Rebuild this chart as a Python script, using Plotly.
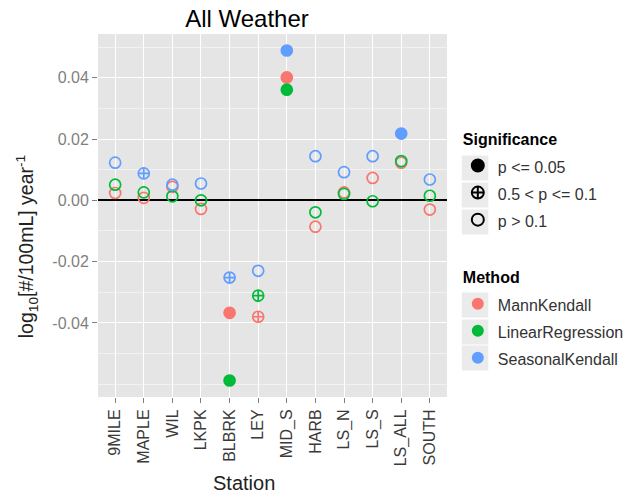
import plotly.graph_objects as go

stations = ["9MILE", "MAPLE", "WIL", "LKPK", "BLBRK", "LEY", "MID_S", "HARB",
            "LS_N", "LS_S", "LS_ALL", "SOUTH"]

mann_kendall = [0.0024, 0.0008, 0.0044, -0.0028, -0.0367, -0.0380, 0.0401, -0.0086,
                0.0026, 0.0073, 0.0123, -0.0030]
linear_regression = [0.0051, 0.0026, 0.0013, 0.0000, -0.0588, -0.0311, 0.0361, -0.0039,
                     0.0021, -0.0003, 0.0128, 0.0015]
seasonal_kendall = [0.0123, 0.0088, 0.0051, 0.0055, -0.0252, -0.0230, 0.0489, 0.0144,
                    0.0092, 0.0144, 0.0218, 0.0068]

# significance class: "s" p<=0.05, "m" 0.05<p<=0.1, "n" p>0.1
mann_kendall_sig = ["n", "n", "n", "n", "s", "m", "s", "n", "n", "n", "n", "n"]
linear_regression_sig = ["n", "n", "n", "n", "s", "m", "s", "n", "n", "n", "n", "n"]
seasonal_kendall_sig = ["n", "m", "n", "n", "m", "n", "s", "n", "n", "n", "s", "n"]

methods = ["MannKendall", "LinearRegression", "SeasonalKendall"]
method_values = [mann_kendall, linear_regression, seasonal_kendall]
method_sigs = [mann_kendall_sig, linear_regression_sig, seasonal_kendall_sig]
method_colors = ["#F8766D", "#00BA38", "#619CFF"]

sig_codes = ["s", "m", "n"]
sig_labels = ["p <= 0.05", "0.5 < p <= 0.1", "p > 0.1"]
sig_symbols = ["circle", "circle-cross-open", "circle-open"]

y_ticks = [-0.04, -0.02, 0.00, 0.02, 0.04]

W, H = 641, 496
L, R, T, B = 98, 188, 34, 99
pw, ph = W - L - R, H - T - B


def px_x(px):
    return (px - L) / pw


def px_y(py):
    return (H - B - py) / ph


def small(t):
    return f'<span style="font-size:16px">{t}</span>'


fig = go.Figure()

for m, vals, sigs, col in zip(methods, method_values, method_sigs, method_colors):
    for code, sym in zip(sig_codes, sig_symbols):
        xs = [s for s, g in zip(stations, sigs) if g == code]
        ys = [v for v, g in zip(vals, sigs) if g == code]
        if not xs:
            continue
        fig.add_trace(go.Scatter(
            x=xs, y=ys, mode="markers", showlegend=False,
            marker=dict(symbol=sym, size=11, color=col,
                        line=dict(color=col, width=1.7)),
            name=m))

# legend entries
for lab, sym in zip(sig_labels, sig_symbols):
    fig.add_trace(go.Scatter(
        x=[None], y=[None], mode="markers", name=small(lab),
        legendgroup="sig", legendgrouptitle_text="<b>" + small("Significance") + "</b>",
        marker=dict(symbol=sym, size=9, color="black", line=dict(color="black", width=1.3))))
for m, col in zip(methods, method_colors):
    fig.add_trace(go.Scatter(
        x=[None], y=[None], mode="markers", name=small(m),
        legendgroup="method", legendgrouptitle_text="<b>" + small("Method") + "</b>",
        marker=dict(symbol="circle", size=9, color=col)))

# grey legend key backgrounds (ggplot style)
key_shapes = []
for cy in [168, 195, 222, 305, 332, 358]:
    key_shapes.append(dict(type="rect", xref="paper", yref="paper", layer="above",
                           x0=px_x(468), x1=px_x(495), y0=px_y(cy + 12.5), y1=px_y(cy - 12.5),
                           fillcolor="#EBEBEB", line=dict(width=0)))

all_vals = mann_kendall + linear_regression + seasonal_kendall
lo, hi = min(all_vals), max(all_vals)
pad = (hi - lo) * 0.05

fig.update_layout(
    width=W, height=H,
    margin=dict(l=L, r=R, t=T, b=B),
    paper_bgcolor="white", plot_bgcolor="#E5E5E5",
    font=dict(family="Liberation Sans, Arial, sans-serif", color="#222222"),
    title=dict(text="All Weather", x=247 / W, xanchor="center", xref="container",
               y=1 - 19 / H, yanchor="middle", font=dict(size=24, color="black")),
    showlegend=True,
    legend=dict(x=px_x(464), xanchor="left", y=px_y(118), yanchor="top",
                font=dict(size=18.5, color="#333333"),
                grouptitlefont=dict(size=20, color="black"),
                tracegroupgap=28, itemsizing="constant", bgcolor="rgba(0,0,0,0)"),
    shapes=key_shapes,
    xaxis=dict(
        categoryorder="array", categoryarray=stations,
        range=[-0.6, len(stations) - 0.4],
        showgrid=True, gridcolor="white", gridwidth=1.4,
        zeroline=False, showline=False, automargin=False,
        ticks="outside", ticklen=5, tickcolor="#7F7F7F", tickwidth=1,
        tickangle=-90, tickfont=dict(size=16, color="#3A3A3A"),
    ),
    yaxis=dict(
        range=[lo - pad, hi + pad], automargin=False,
        tickvals=y_ticks, ticktext=[f"{v:.2f}" for v in y_ticks],
        showgrid=True, gridcolor="white", gridwidth=1.4,
        minor=dict(dtick=0.01, tick0=0.01, showgrid=True, gridcolor="#F2F2F2", gridwidth=0.7),
        zeroline=True, zerolinecolor="black", zerolinewidth=1.8,
        showline=False,
        ticks="outside", ticklen=5, tickcolor="#7F7F7F", tickwidth=1,
        tickfont=dict(size=16, color="#7F7F7F"),
    ),
    annotations=[
        dict(text="Station", xref="paper", yref="paper", x=px_x(247), y=px_y(483),
             xanchor="center", yanchor="middle", showarrow=False,
             font=dict(size=20, color="#222222")),
        dict(text="log<sub>10</sub>[#/100mL] year<sup>-1</sup>", xref="paper", yref="paper",
             x=px_x(25), y=px_y(247), xanchor="center", yanchor="middle", textangle=-90,
             showarrow=False, font=dict(size=19.5, color="#222222")),
    ],
)

fig.write_html("out.html", config={"displayModeBar": False},
               post_script="document.body.style.margin='0';")
